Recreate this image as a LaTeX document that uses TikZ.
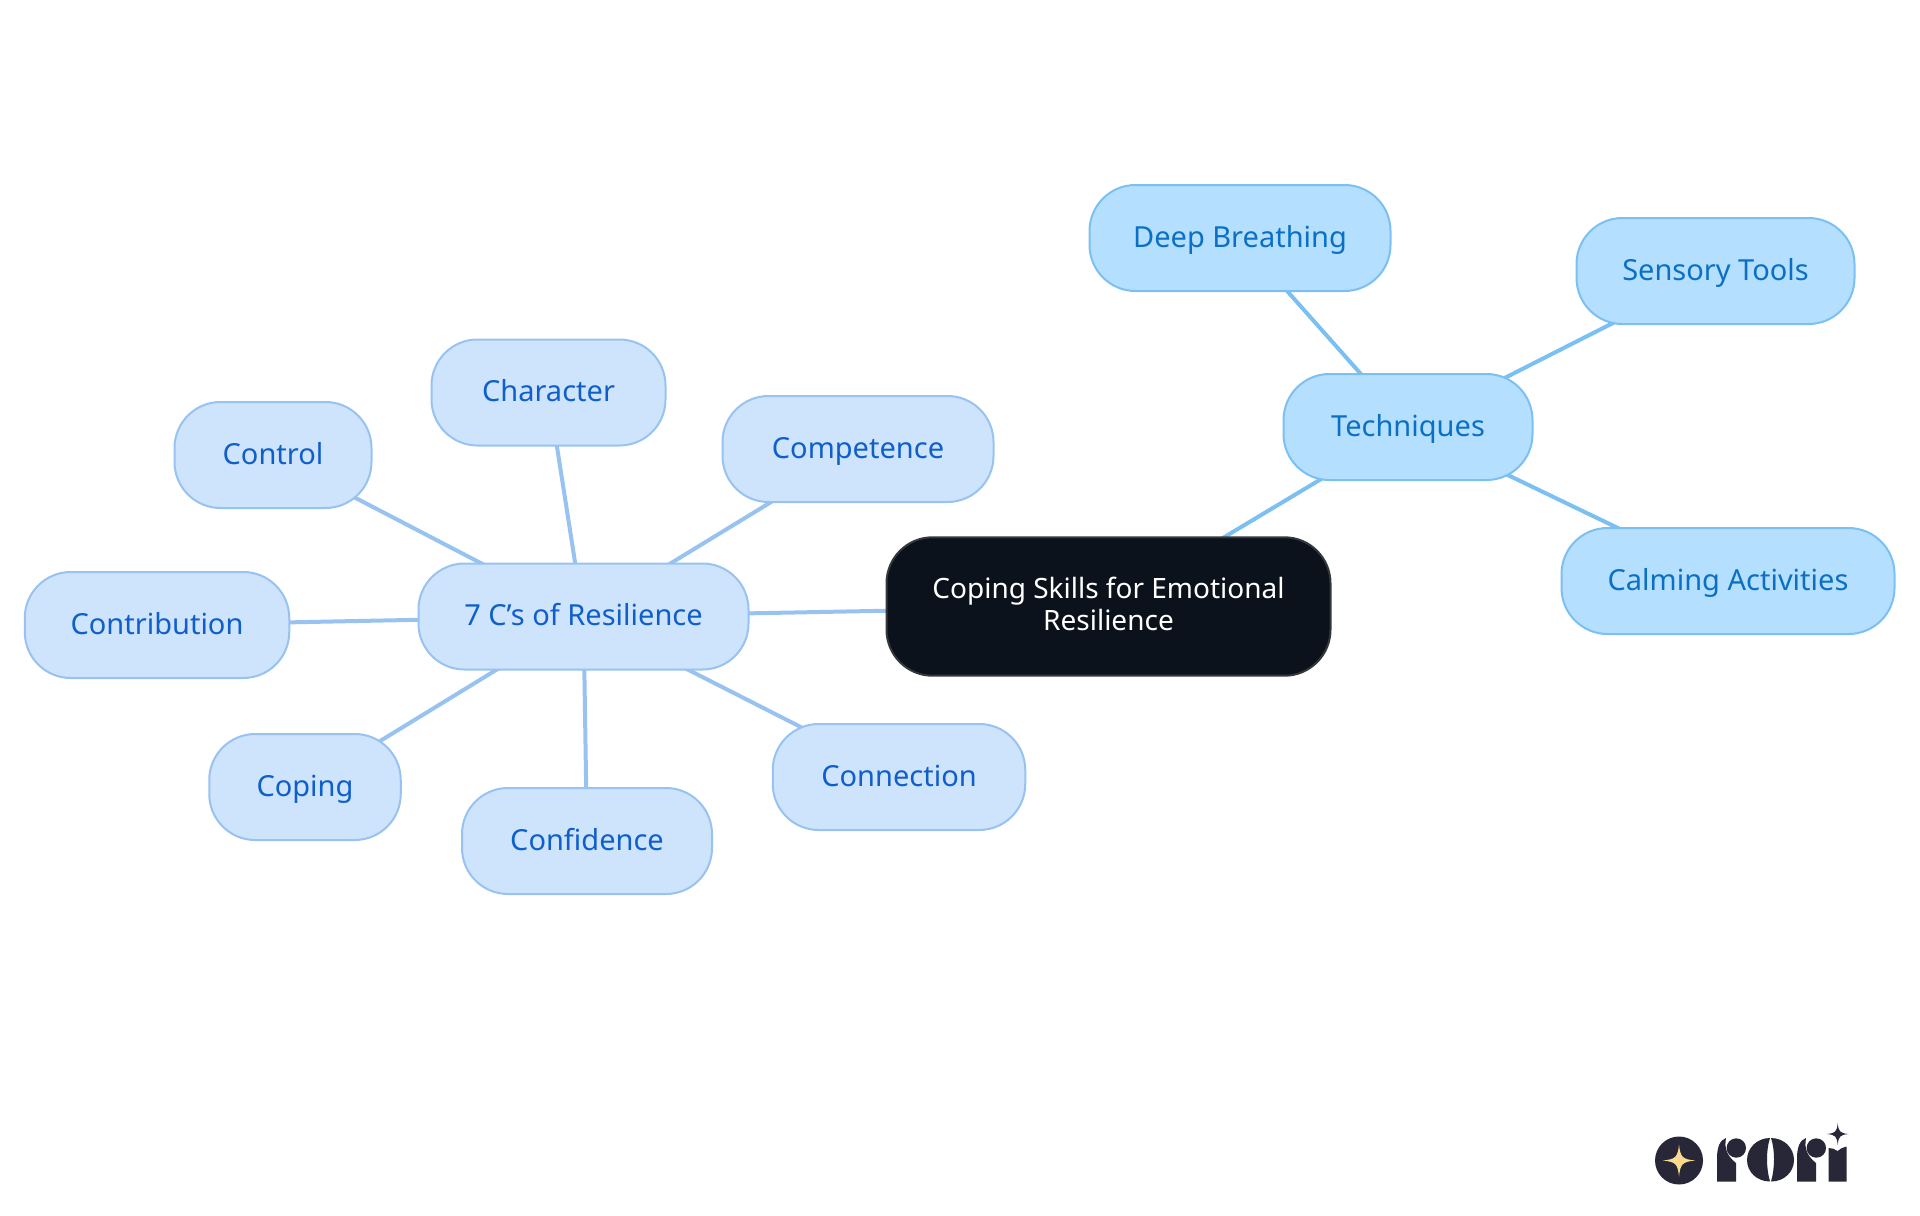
\documentclass[tikz,border=0pt]{standalone}
\usepackage{fontspec}
\setmainfont{Noto Sans}
\usetikzlibrary{backgrounds}
\definecolor{rootfill}{HTML}{0B121B}
\definecolor{rootline}{HTML}{34383D}
\definecolor{resfill}{HTML}{CEE3FC}
\definecolor{resline}{HTML}{98C3F0}
\definecolor{restext}{HTML}{0F5FCB}
\definecolor{techfill}{HTML}{B4DFFE}
\definecolor{techline}{HTML}{7CC0F2}
\definecolor{techtext}{HTML}{0B70C4}
\definecolor{logodark}{HTML}{282738}
\definecolor{logostar}{HTML}{FBD98F}
\newcommand{\sparkle}[4]{\fill[#4,shift={(#1,#2)},scale=#3] (0,-24) .. controls (2,-5) and (5,-2) .. (24,0) .. controls (5,2) and (2,5) .. (0,24) .. controls (-2,5) and (-5,2) .. (-24,0) .. controls (-5,-2) and (-2,-5) .. cycle;}
\tikzset{
    mapnode/.style={draw,rounded corners=23pt,line width=1pt,inner sep=0pt,minimum height=53pt,align=center,text height=9.5pt,text depth=0.5pt,font=\fontsize{14.5}{16}\selectfont},
    rootnode/.style={mapnode,fill=rootfill,draw=rootline,text=white,minimum height=69.2pt,text height=,text depth=,font=\fontsize{14}{16}\selectfont},
    resnode/.style={mapnode,fill=resfill,draw=resline,text=restext},
    technode/.style={mapnode,fill=techfill,draw=techline,text=techtext},
    resedge/.style={draw=resline,line width=2pt},
    techedge/.style={draw=techline,line width=2pt}
}
\begin{document}
\begin{tikzpicture}[x=0.5pt,y=-0.5pt]
    \useasboundingbox (0,0) rectangle (1920,1215);
    \node[rootnode,minimum width=222pt] (root) at (1108.5,606.5) {Coping Skills for Emotional\\Resilience\rule[-2.4pt]{0pt}{2.4pt}};

    \node[technode,minimum width=124.5pt] (tech) at (1408,427) {Techniques};
    \node[technode,minimum width=150.5pt] (breath) at (1240,238) {Deep Breathing};
    \node[technode,minimum width=139pt] (sensory) at (1715.5,271) {Sensory Tools};
    \node[technode,minimum width=166.5pt] (calm) at (1728,581) {Calming Activities};

    \node[resnode,minimum width=165pt] (res) at (583.5,616.5) {7 C's of Resilience};
    \node[resnode,minimum width=117pt] (character) at (548.5,392.5) {Character};
    \node[resnode,minimum width=98.5pt] (control) at (273,455) {Control};
    \node[resnode,minimum width=135.5pt] (competence) at (858,449) {Competence};
    \node[resnode,minimum width=132.25pt] (contribution) at (157,625) {Contribution};
    \node[resnode,minimum width=95.75pt] (coping) at (305,787) {Coping};
    \node[resnode,minimum width=125pt] (confidence) at (587,841) {Confidence};
    \node[resnode,minimum width=126.25pt] (connection) at (899,777) {Connection};

    % Connectors
    \begin{scope}[on background layer]
        \draw[techedge] (root.center) -- (tech.center);
        \foreach \leaf in {breath,sensory,calm}
            \draw[techedge] (tech.center) -- (\leaf.center);
        \draw[resedge] (root.center) -- (res.center);
        \foreach \leaf in {character,control,competence,contribution,coping,confidence,connection}
            \draw[resedge] (res.center) -- (\leaf.center);
    \end{scope}

    % Logo
    \fill[logodark] (1679,1160.5) circle (24);
    \sparkle{1679}{1160.5}{0.67}{logostar}
    \foreach \dx in {0,80} {
        \fill[logodark] (1717+\dx,1181.5) -- (1717+\dx,1158) .. controls (1717+\dx,1147) and (1720+\dx,1140) .. (1726+\dx,1138) .. controls (1724+\dx,1148) and (1727+\dx,1156) .. (1736+\dx,1163) -- (1736+\dx,1181.5) -- cycle;
        \fill[logodark] (1736.3+\dx,1148) circle (9.7);
    }
    \fill[logodark] (1770,1138) .. controls (1757,1138) and (1747,1148) .. (1747,1160) .. controls (1747,1172) and (1757,1181.5) .. (1770,1181.5) .. controls (1766,1168) and (1766,1150) .. cycle;
    \fill[logodark] (1771,1138) .. controls (1784,1138) and (1794,1148) .. (1794,1160) .. controls (1794,1172) and (1784,1181.5) .. (1771,1181.5) .. controls (1775,1168) and (1775,1150) .. cycle;
    \fill[logodark] (1828.5,1181.5) -- (1828.5,1148) .. controls (1832,1148) and (1835,1149) .. (1837.5,1151) .. controls (1840,1149) and (1843,1147) .. (1846.5,1146.5) -- (1846.5,1181.5) -- cycle;
    \sparkle{1837.7}{1134}{0.45}{logodark}
\end{tikzpicture}
\end{document}
